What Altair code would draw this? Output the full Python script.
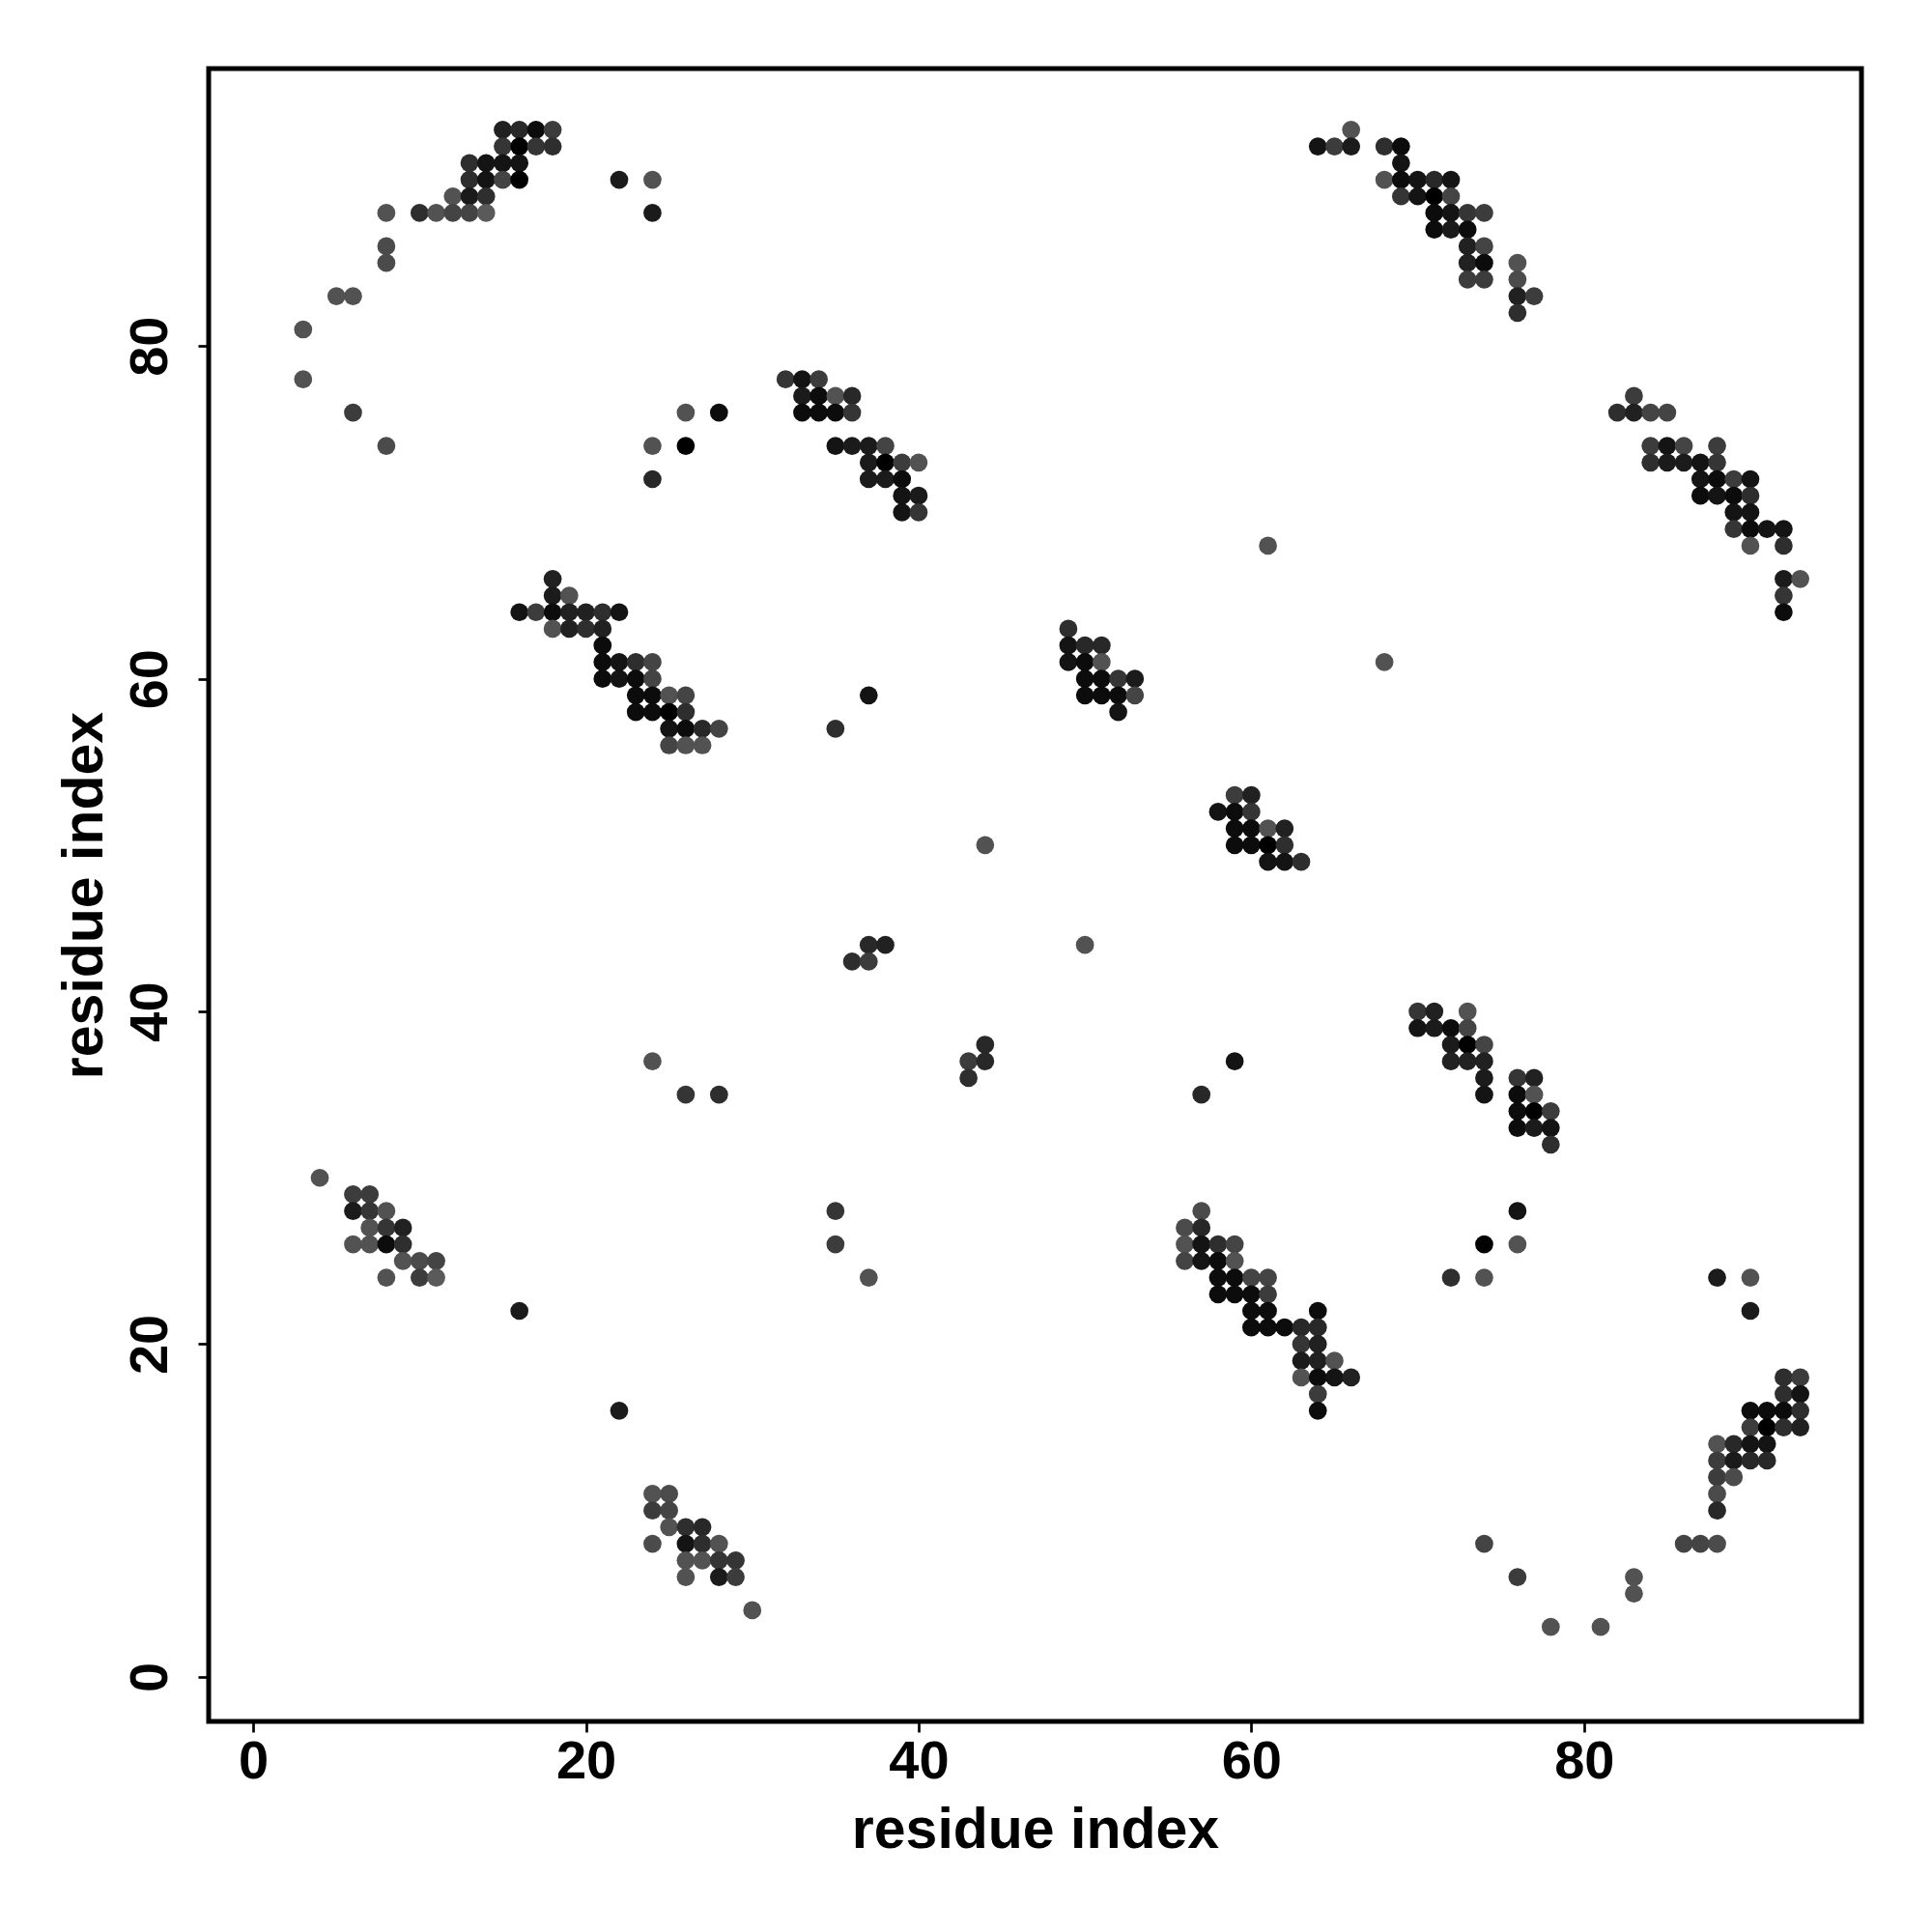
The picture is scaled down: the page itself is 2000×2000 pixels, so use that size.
import altair as alt
import pandas as pd

# contact map: row (residue j) -> residues i with their contact strength
row_y = [93, 92, 91, 90, 89, 88, 87, 86, 85, 84, 83, 82, 81, 78, 77, 76, 74, 73, 72, 71,
         70, 69, 68, 66, 65, 64, 63, 62, 61, 60, 59, 58, 57, 56, 53, 52, 51, 50, 49, 44,
         43, 40, 39, 38, 37, 36, 35, 34, 33, 32, 30, 29, 28, 27, 26, 25, 24, 23, 22, 21,
         20, 19, 18, 17, 16, 15, 14, 13, 12, 11, 10, 9, 8, 7, 6, 5, 4, 3]

row_x = [
    [15, 16, 17, 18, 66],
    [15, 16, 17, 18, 64, 65, 66, 68, 69],
    [13, 14, 15, 16, 69],
    [13, 14, 15, 16, 22, 24, 68, 69, 70, 71, 72],
    [12, 13, 14, 69, 70, 71, 72],
    [8, 10, 11, 12, 13, 14, 24, 71, 72, 73, 74],
    [71, 72, 73],
    [8, 73, 74],
    [8, 73, 74, 76],
    [73, 74, 76],
    [5, 6, 76, 77],
    [76],
    [3],
    [3, 32, 33, 34],
    [33, 34, 35, 36, 83],
    [6, 26, 28, 33, 34, 35, 36, 82, 83, 84, 85],
    [8, 24, 26, 35, 36, 37, 38, 84, 85, 86, 88],
    [37, 38, 39, 40, 84, 85, 86, 87, 88],
    [24, 37, 38, 39, 87, 88, 89, 90],
    [39, 40, 87, 88, 89, 90],
    [39, 40, 89, 90],
    [89, 90, 91, 92],
    [61, 90, 92],
    [18, 92, 93],
    [18, 19, 92],
    [16, 17, 18, 19, 20, 21, 22, 92],
    [18, 19, 20, 21, 49],
    [21, 49, 50, 51],
    [21, 22, 23, 24, 49, 50, 51, 68],
    [21, 22, 23, 24, 50, 51, 52, 53],
    [23, 24, 25, 26, 37, 50, 51, 52, 53],
    [23, 24, 25, 26, 52],
    [25, 26, 27, 28, 35],
    [25, 26, 27],
    [59, 60],
    [58, 59, 60],
    [59, 60, 61, 62],
    [44, 59, 60, 61, 62],
    [61, 62, 63],
    [37, 38, 50],
    [36, 37],
    [70, 71, 73],
    [70, 71, 72, 73],
    [44, 72, 73, 74],
    [24, 43, 44, 59, 72, 73, 74],
    [43, 74, 76, 77],
    [26, 28, 57, 74, 76, 77],
    [76, 77, 78],
    [76, 77, 78],
    [78],
    [4],
    [6, 7],
    [6, 7, 8, 35, 57, 76],
    [7, 8, 9, 56, 57],
    [6, 7, 8, 9, 35, 56, 57, 58, 59, 74, 76],
    [9, 10, 11, 56, 57, 58, 59],
    [8, 10, 11, 37, 58, 59, 60, 61, 72, 74, 88, 90],
    [58, 59, 60, 61],
    [16, 60, 61, 64, 90],
    [60, 61, 62, 63, 64],
    [63, 64],
    [63, 64, 65],
    [63, 64, 65, 66, 92, 93],
    [64, 92, 93],
    [22, 64, 90, 91, 92, 93],
    [90, 91, 92, 93],
    [88, 89, 90, 91],
    [88, 89, 90, 91],
    [88, 89],
    [24, 25, 88],
    [24, 25, 88],
    [25, 26, 27],
    [24, 26, 27, 28, 74, 86, 87, 88],
    [26, 27, 28, 29],
    [26, 28, 29, 76, 83],
    [83],
    [30],
    [78, 81],
]

row_p = [
    [.8, .75, .95, .6, .45],
    [.65, 1, .65, .7, .9, .6, .85, .7, .95],
    [.7, .9, .9, .9, .9],
    [.7, .9, .55, 1, .85, .45, .45, .95, .9, .75, .9],
    [.45, .85, .7, .65, .9, 1, .55],
    [.45, .7, .45, .55, .55, .4, .85, .95, .9, .65, .6],
    [.95, .85, .95],
    [.5, .8, .55],
    [.5, .8, .95, .45],
    [.6, .6, .5],
    [.45, .45, .8, .6],
    [.7],
    [.45],
    [.45, .65, .9, .6],
    [.85, .95, .45, .75, .6],
    [.6, .45, .95, .95, .95, .95, .65, .7, .8, .55, .55],
    [.5, .45, 1, .9, .85, .85, .55, .6, .9, .55, .6],
    [.85, 1, .6, .45, .7, .85, .85, .9, .65],
    [.75, .85, .85, .95, .9, .95, .6, .9],
    [.9, .85, .95, .9, .95, .7],
    [.9, .65, .9, .9],
    [.65, .95, .9, .9],
    [.45, .45, .7],
    [.8, .85, .45],
    [.85, .45, .65],
    [.9, .6, .95, .8, .8, .7, .9, .95],
    [.45, .8, .7, .8, .7],
    [.95, .9, .75, .75],
    [.95, .9, .7, .55, .9, .95, .45, .45],
    [.95, .9, .95, .55, .95, .95, .65, .85],
    [.95, .95, .45, .55, .9, .95, .95, .95, .55],
    [.95, .95, 1, .7, .9],
    [.9, .95, .75, .55, .7],
    [.55, .45, .45],
    [.6, .8],
    [.9, .95, .65],
    [.95, .95, .45, .8],
    [.45, .95, .95, 1, .7],
    [.9, .9, .7],
    [.75, .8, .45],
    [.7, .6],
    [.65, .8, .45],
    [.9, .85, .95, .55],
    [.75, .85, 1, .55],
    [.45, .6, .75, .9, .8, .8, .8],
    [.7, .85, .65, .8],
    [.65, .7, .75, .9, .95, .45],
    [.95, 1, .6],
    [.95, .85, .9],
    [.7],
    [.45],
    [.6, .6],
    [.85, .65, .45, .65, .5, .9],
    [.45, .65, .8, .5, .75],
    [.45, .45, .95, .7, .6, .45, .9, .7, .55, 1, .45],
    [.45, .5, .55, .55, .9, .95, .45],
    [.45, .6, .4, .45, .95, .95, .55, .55, .7, .45, .85, .45],
    [.95, .95, .95, .6],
    [.85, .95, .95, .95, .85],
    [.95, .95, .95, .75, .75],
    [.65, .8],
    [.85, .8, .45],
    [.45, .95, .9, .8, .7, .6],
    [.6, .7, .9],
    [.85, .95, .95, .95, .95, .7],
    [.6, 1, .7, .8],
    [.45, .75, .9, .9],
    [.6, .85, .75, .75],
    [.6, .5],
    [.45, .5, .5],
    [.6, .55, .75],
    [.45, .7, .75],
    [.5, .9, .7, .45, .55, .55, .55, .5],
    [.45, .45, .65, .65],
    [.45, .85, .6, .6, .45],
    [.45],
    [.45],
    [.45, .45],
]

tick_values = [0, 20, 40, 60, 80]
axis_domain = [-2.68, 96.68]

records = []
for yv, xs, ps in zip(row_y, row_x, row_p):
    for xv, pv in zip(xs, ps):
        records.append({"i": xv, "j": yv, "p": pv})
df = pd.DataFrame(records)

FONT = "Liberation Sans"

x_axis = alt.Axis(
    values=tick_values, domain=False, grid=False,
    ticks=True, tickSize=11, tickWidth=2.7, tickColor="black",
    labelFont=FONT, labelFontSize=56, labelFontWeight="bold", labelColor="black",
    labelBaseline="alphabetic", labelAlign="center", labelPadding=47,
    titleFont=FONT, titleFontSize=59, titleFontWeight="bold", titleColor="black",
    titleBaseline="alphabetic", titleAlign="center", titleX=855.5, titleY=130,
)
y_axis = alt.Axis(
    values=tick_values, domain=False, grid=False,
    ticks=True, tickSize=11, tickWidth=2.7, tickColor="black",
    labelFont=FONT, labelFontSize=56, labelFontWeight="bold", labelColor="black",
    labelAngle=270, labelBaseline="alphabetic", labelAlign="center", labelPadding=33,
    titleFont=FONT, titleFontSize=59, titleFontWeight="bold", titleColor="black",
    titleAngle=270, titleBaseline="alphabetic", titleAlign="center", titleX=-111, titleY=855.5,
)

chart = alt.Chart(df).mark_circle(size=350, opacity=1).encode(
    x=alt.X("i:Q", title="residue index",
            scale=alt.Scale(domain=axis_domain, nice=False, zero=False), axis=x_axis),
    y=alt.Y("j:Q", title="residue index",
            scale=alt.Scale(domain=axis_domain, nice=False, zero=False), axis=y_axis),
    color=alt.Color("p:Q", scale=alt.Scale(domain=[0.4, 1.0], range=["#5a5a5a", "#000000"]),
                    legend=None),
).properties(
    width=1711, height=1711,
    background="white",
    autosize=alt.AutoSizeParams(type="none"),
    padding={"left": 208, "top": 63, "right": 50, "bottom": 200},
).configure_view(
    stroke="black", strokeWidth=5, fill="white"
)

chart.save("out.html", embed_options={"renderer": "svg", "actions": False})
